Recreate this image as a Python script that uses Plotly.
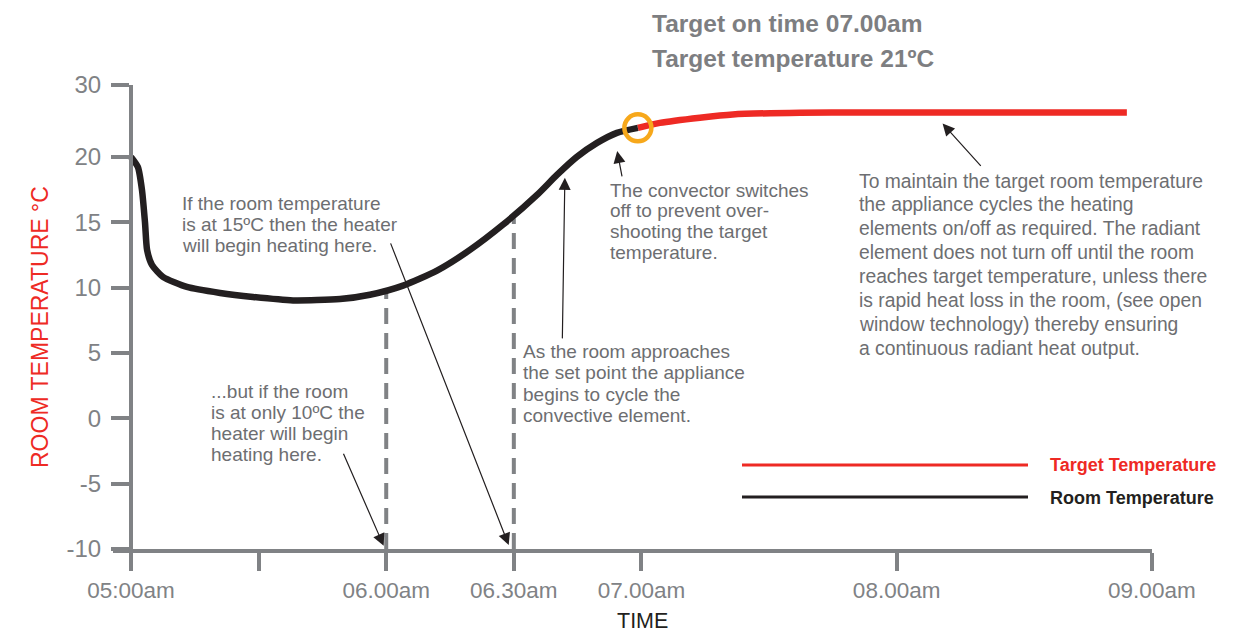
import plotly.graph_objects as go

# ---------------- data ----------------
room_time = [5.0, 5.027, 5.043, 5.055, 5.063, 5.082, 5.125, 5.219, 5.349, 5.478,
             5.635, 5.819, 5.936, 6.066, 6.199, 6.328, 6.457, 6.591, 6.669,
             6.747, 6.826, 6.904, 6.986]
room_temp = [20.0, 19.23, 17.48, 14.95, 12.88, 11.74, 10.82, 10.05, 9.59, 9.28,
             9.02, 9.12, 9.45, 10.15, 11.3, 12.88, 14.8, 17.09, 18.62,
             20.0, 21.07, 21.84, 22.22]
target_time = [6.986, 7.072, 7.229, 7.358, 7.621, 7.82, 8.902]
target_temp = [22.22, 22.6, 23.0, 23.25, 23.38, 23.4, 23.4]
heat_start_time = [6.0, 6.5]
heat_start_temp = [9.8, 15.3]
switch_off_time = [6.986]
switch_off_temp = [22.22]

x_tick_vals = [5.0, 5.5, 6.0, 6.5, 7.0, 8.0, 9.0]
x_tick_text = ["05:00am", "", "06.00am", "06.30am", "07.00am", "08.00am", "09.00am"]
y_tick_vals = [-10, -5, 0, 5, 10, 15, 20, 25.5]
y_tick_text = ["-10", "-5", "0", "5", "10", "15", "20", "30"]

note_15 = ["If the room temperature", "is at 15ºC then the heater", "will begin heating here."]
note_10 = ["...but if the room", "is at only 10ºC the", "heater will begin", "heating here."]
note_cycle = ["As the room approaches", "the set point the appliance",
              "begins to cycle the", "convective element."]
note_conv = ["The convector switches", "off to prevent over-",
             "shooting the target", "temperature."]
note_maintain = ["To maintain the target room temperature",
                 "the appliance cycles the heating",
                 "elements on/off as required. The radiant",
                 "element does not turn off until the room",
                 "reaches target temperature, unless there",
                 "is rapid heat loss in the room, (see open",
                 "window technology) thereby ensuring",
                 "a continuous radiant heat output."]

# ---------------- style ----------------
OFF = 8                      # page body margin
W, H = 1244 - OFF, 632 - OFF
ML, MR, MT, MB = 105, 92, 77, 83
AX = "#808285"
TXT = "#6d6e71"
RED = "#ee2a24"
BLK = "#231f20"
ORANGE = "#f7a81b"
FONT = "Liberation Sans, Arial, sans-serif"


def px(x):
    return (x - OFF - ML) / (W - ML - MR)


def py(y):
    return (H - MB - (y - OFF)) / (H - MT - MB)


fig = go.Figure()

# dashed heat-start guides
for t, v in zip(heat_start_time, heat_start_temp):
    fig.add_trace(go.Scatter(x=[t, t], y=[-10, v], mode="lines",
                             line=dict(color=AX, width=4, dash="16px,9px"),
                             hoverinfo="skip", showlegend=False))

fig.add_trace(go.Scatter(x=target_time, y=target_temp, mode="lines",
                         line=dict(color=RED, width=6.5, shape="spline", smoothing=0.7),
                         name="Target Temperature", showlegend=False))
fig.add_trace(go.Scatter(x=room_time, y=room_temp, mode="lines",
                         line=dict(color=BLK, width=6.5, shape="spline", smoothing=0.6),
                         name="Room Temperature", showlegend=False))
fig.add_trace(go.Scatter(x=switch_off_time, y=switch_off_temp, mode="markers",
                         marker=dict(symbol="circle-open", size=27, color=ORANGE,
                                     line=dict(width=4.5, color=ORANGE)),
                         showlegend=False, hoverinfo="skip"))

annotations = []


def add_lines(lines, left, first_center, spacing, size=19, color=TXT, bold=False):
    for i, s in enumerate(lines):
        annotations.append(dict(
            xref="paper", yref="paper", x=px(left - 2), y=py(first_center + i * spacing),
            xanchor="left", yanchor="middle", showarrow=False,
            text=("<b>%s</b>" % s) if bold else s,
            font=dict(family=FONT, size=size, color=color)))


add_lines(note_15, 182, 203, 21.2)
add_lines(note_10, 211, 391, 21.2)
add_lines(note_cycle, 523, 351, 21.5)
add_lines(note_conv, 610, 190, 20.8)
add_lines(note_maintain, 859, 181, 23.9, size=19.3)
add_lines(["Target on time 07.00am"], 652, 23, 0, size=24.5, color="#7d7e81", bold=True)
add_lines(["Target temperature 21ºC"], 652, 58, 0, size=24.5, color="#7d7e81", bold=True)
add_lines(["Target Temperature"], 1050, 465, 0, size=18, color=RED, bold=True)
add_lines(["Room Temperature"], 1050, 498, 0, size=18, color=BLK, bold=True)

# arrows (head x,y ; tail ax,ay in data units)
arrows = [
    (6.48, -9.7, 6.015, 13.5),
    (5.99, -9.75, 5.83, -2.6),
    (6.70, 18.4, 6.69, 6.0),
    (6.905, 20.45, 6.925, 18.4),
    (8.18, 22.55, 8.335, 19.2),
]
for hx, hy, tx, ty in arrows:
    annotations.append(dict(x=hx, y=hy, ax=tx, ay=ty, xref="x", yref="y",
                            axref="x", ayref="y", text="", showarrow=True,
                            arrowhead=2, arrowsize=2, arrowwidth=1.2,
                            arrowcolor=BLK, standoff=0, startstandoff=0))

annotations.append(dict(xref="paper", yref="paper", x=px(40), y=py(327),
                        text="ROOM TEMPERATURE °C", textangle=-90, showarrow=False,
                        xanchor="center", yanchor="middle",
                        font=dict(family=FONT, size=23, color=RED)))
annotations.append(dict(xref="paper", yref="paper", x=px(642), y=py(621),
                        text="TIME", showarrow=False, xanchor="center", yanchor="middle",
                        font=dict(family=FONT, size=21.5, color=BLK)))

shapes = [
    dict(type="line", xref="paper", yref="paper", x0=px(742), x1=px(1028),
         y0=py(465), y1=py(465), line=dict(color=RED, width=3)),
    dict(type="line", xref="paper", yref="paper", x0=px(742), x1=px(1028),
         y0=py(497), y1=py(497), line=dict(color=BLK, width=3)),
]

fig.update_layout(
    width=W, height=H,
    margin=dict(l=ML, r=MR, t=MT, b=MB, autoexpand=False),
    plot_bgcolor="white", paper_bgcolor="white",
    annotations=annotations, shapes=shapes,
    showlegend=False,
    xaxis=dict(range=[5 - 18 / 255.25, 9.0005], tickvals=x_tick_vals, ticktext=x_tick_text,
               showline=True, linecolor=AX, linewidth=4, ticks="outside", ticklen=18,
               tickwidth=4, tickcolor=AX, showgrid=False, zeroline=False,
               tickfont=dict(family=FONT, size=22.5, color=AX), fixedrange=True),
    yaxis=dict(range=[-10, 25.5], tickvals=y_tick_vals, ticktext=y_tick_text,
               anchor="free", position=px(131),
               showline=True, linecolor=AX, linewidth=4, ticks="outside", ticklen=18,
               tickwidth=4, tickcolor=AX, showgrid=False, zeroline=False,
               ticklabelstandoff=5,
               tickfont=dict(family=FONT, size=24, color=AX), fixedrange=True),
)

fig.write_html("out.html")
